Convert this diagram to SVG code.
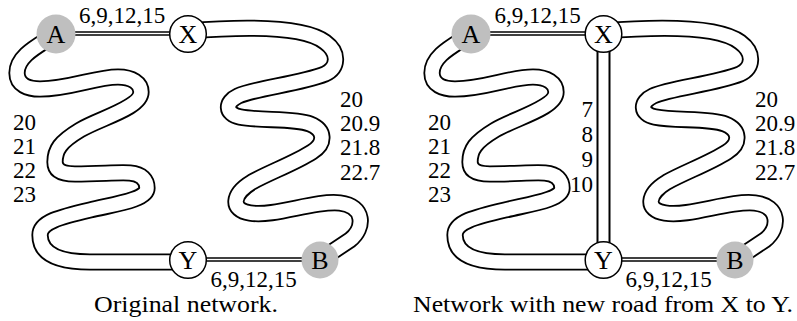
<svg xmlns="http://www.w3.org/2000/svg" xmlns:xlink="http://www.w3.org/1999/xlink" width="797" height="321" viewBox="0 0 797 321">
<style>
.ro{fill:none;stroke:#000;stroke-width:17.2}
.ri{fill:none;stroke:#fff;stroke-width:13.6}
.do{fill:none;stroke:#000;stroke-width:4.6}
.di{fill:none;stroke:#fff;stroke-width:1.4}
.vo{fill:none;stroke:#000;stroke-width:14}
.vi{fill:none;stroke:#fff;stroke-width:10}
.grey{fill:#bfbfbf}
.wht{fill:#fff;stroke:#000;stroke-width:1.5}
text{font-family:"Liberation Serif","DejaVu Serif",serif;font-size:23px;fill:#000}
.c{text-anchor:middle}
.e{text-anchor:end}
.n{text-anchor:middle;font-size:26px}
</style>
<defs>
<path id="snakeL" d="M 56,34 C 40,45 17,55 17,73 C 17,85 28,89 40,89 C 70,89 95,77 118,77 C 132,77 141,83 141,92 C 141,108 100,118 80,130 C 60,142 55,150 55,162 C 55,171 63,174 75,174 C 100,174 120,172 130,173 C 142,174 147,180 147,188 C 147,200 115,204 90,210 C 60,217 40,222 40,235 C 40,255 60,262 90,262 L 188,262"/>
<path id="snakeR" d="M 188,31 C 250,26 305,27 325,42 C 340,53 338,68 325,74 C 300,84 255,88 238,96 C 225,102 225,114 240,117 C 260,121 295,118 310,124 C 325,130 326,143 312,152 C 295,163 270,172 252,182 C 232,194 230,210 250,213 C 275,217 315,200 340,203 C 365,206 365,228 350,240 L 320,260"/>
<path id="dblAX" d="M 56,33.5 L 188,33.5"/>
<path id="dblYB" d="M 188,259.5 L 320,259.5"/>
</defs>
<g id="connectors">
<g id="roads-left">
<use xlink:href="#snakeL" class="ro"/><use xlink:href="#snakeL" class="ri"/>
<use xlink:href="#snakeR" class="ro"/><use xlink:href="#snakeR" class="ri"/>
<use xlink:href="#dblAX" class="do"/><use xlink:href="#dblAX" class="di"/>
<use xlink:href="#dblYB" class="do"/><use xlink:href="#dblYB" class="di"/>
</g>
<g id="roads-right" transform="translate(415,0)">
<use xlink:href="#snakeL" class="ro"/><use xlink:href="#snakeL" class="ri"/>
<use xlink:href="#snakeR" class="ro"/><use xlink:href="#snakeR" class="ri"/>
<use xlink:href="#dblAX" class="do"/><use xlink:href="#dblAX" class="di"/>
<use xlink:href="#dblYB" class="do"/><use xlink:href="#dblYB" class="di"/>
<path d="M 188.5,34 L 188.5,260" class="vo"/><path d="M 188.5,34 L 188.5,260" class="vi"/>
</g>
<g id="edge-labels">
<text class="c" x="122" y="23">6,9,12,15</text>
<text class="c" x="253.5" y="287">6,9,12,15</text>
<text x="13" y="130">20</text><text x="13" y="154">21</text><text x="13" y="178">22</text><text x="13" y="202">23</text>
<text x="340" y="106.5">20</text><text x="340" y="130.5">20.9</text><text x="340" y="155">21.8</text><text x="340" y="179.5">22.7</text>
<text class="c" x="537.5" y="23">6,9,12,15</text>
<text class="c" x="668.5" y="287">6,9,12,15</text>
<text x="428" y="130">20</text><text x="428" y="154">21</text><text x="428" y="178">22</text><text x="428" y="202">23</text>
<text class="e" x="593" y="116.5">7</text><text class="e" x="593" y="141.5">8</text><text class="e" x="593" y="166.5">9</text><text class="e" x="593" y="191.5">10</text>
<text x="755" y="106.5">20</text><text x="755" y="130.5">20.9</text><text x="755" y="155">21.8</text><text x="755" y="179.5">22.7</text>
</g>
</g>
<g id="node-A1"><circle cx="56" cy="34" r="19.5" class="grey"/><text class="n" x="56" y="42.5">A</text></g>
<g id="node-X1"><circle cx="188" cy="34" r="18.3" class="wht"/><text class="n" x="188" y="42.5">X</text></g>
<g id="node-Y1"><circle cx="188" cy="260" r="18.3" class="wht"/><text class="n" x="188" y="268.5">Y</text></g>
<g id="node-B1"><circle cx="320" cy="260" r="18.5" class="grey"/><text class="n" x="320" y="268.5">B</text></g>
<g id="node-A2"><circle cx="471" cy="34" r="19.5" class="grey"/><text class="n" x="471" y="42.5">A</text></g>
<g id="node-X2"><circle cx="603.5" cy="34" r="18.3" class="wht"/><text class="n" x="603.5" y="42.5">X</text></g>
<g id="node-Y2"><circle cx="603.5" cy="260" r="18.3" class="wht"/><text class="n" x="603.5" y="268.5">Y</text></g>
<g id="node-B2"><circle cx="735" cy="260" r="18.5" class="grey"/><text class="n" x="735" y="268.5">B</text></g>
<g id="captions">
<text class="c" x="186" y="312" textLength="184" lengthAdjust="spacingAndGlyphs">Original network.</text>
<text class="c" x="603" y="312" textLength="380" lengthAdjust="spacingAndGlyphs">Network with new road from X to Y.</text>
</g>
</svg>
